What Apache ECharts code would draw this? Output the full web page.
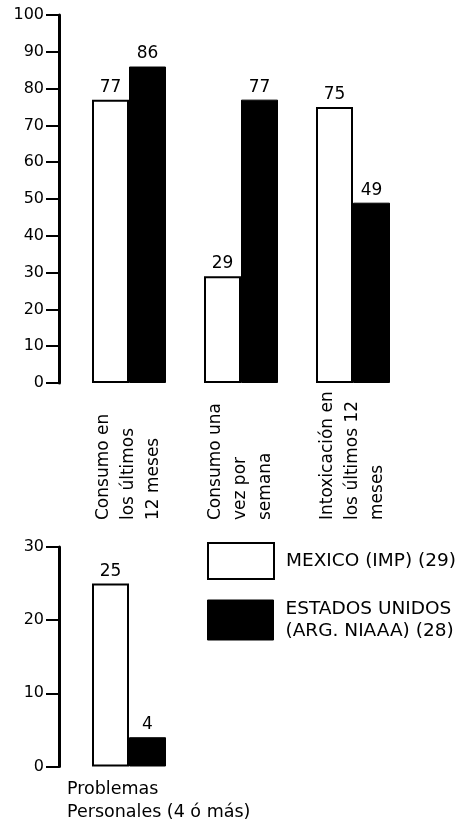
<!DOCTYPE html>
<html>
<head>
<meta charset="utf-8">
<script src="https://cdn.jsdelivr.net/npm/echarts@6/dist/echarts.min.js"></script>
<style>
html,body{margin:0;padding:0;background:#fff;}
#c{width:475px;height:821px;}
</style>
</head>
<body>
<div id="c"></div>
<script>
// ---- data ----
const categories = ['Consumo en\nlos últimos\n12 meses', 'Consumo una\nvez por\nsemana', 'Intoxicación en\nlos últimos 12\nmeses'];
const mexico = [77, 29, 75];
const usa = [86, 77, 49];
const bottomCategories = ['Problemas\nPersonales (4 ó más)'];
const mexicoBottom = [25];
const usaBottom = [4];
const seriesNames = ['MEXICO (IMP) (29)', 'ESTADOS UNIDOS\n(ARG. NIAAA) (28)'];
const topAxis = [0, 100, 10];
const bottomAxis = [0, 30, 10];

const FONT = 'DejaVu Sans';
const chart = echarts.init(document.getElementById('c'), null, {renderer: 'canvas'});

function yAxis(grid, range) {
  return {
    type: 'value', gridIndex: grid, min: range[0], max: range[1], interval: range[2],
    offset: 14,
    axisLine: {show: true, lineStyle: {color: '#000', width: 3}},
    axisTick: {show: true, length: 13, lineStyle: {color: '#000', width: 2}},
    axisLabel: {color: '#000', fontSize: 16, fontFamily: FONT, margin: 15},
    splitLine: {show: false}
  };
}
const labelStyle = {show: true, position: 'top', distance: 4, color: '#000', fontSize: 17, fontFamily: FONT};
const whiteStyle = {color: '#fff', borderColor: '#000', borderWidth: 2};
const blackStyle = {color: '#000', borderColor: '#000', borderWidth: 1};

chart.setOption({
  animation: false,
  backgroundColor: '#fff',
  textStyle: {fontFamily: FONT},
  grid: [
    {left: 73, width: 336, top: 15, height: 368, outerBoundsMode: 'none'},
    {left: 73, width: 112, top: 547, height: 219.5, outerBoundsMode: 'none'}
  ],
  legend: [
    {
      data: [seriesNames[0]], left: 207, top: 542, padding: 0,
      itemWidth: 66, itemHeight: 36, icon: 'rect', selectedMode: false,
      itemStyle: {color: '#fff', borderColor: '#000', borderWidth: 2},
      textStyle: {color: '#000', fontSize: 18.5, fontFamily: FONT, padding: [0, 0, 0, 7]}
    },
    {
      data: [seriesNames[1]], left: 207, top: 598, padding: 0,
      itemWidth: 66, itemHeight: 40, icon: 'rect', selectedMode: false,
      itemStyle: {color: '#000', borderColor: '#000', borderWidth: 1},
      textStyle: {color: '#000', fontSize: 18.5, lineHeight: 22, fontFamily: FONT, padding: [0, 0, 0, 7]}
    }
  ],
  xAxis: [
    {
      type: 'category', gridIndex: 0, data: categories,
      axisLine: {show: false}, axisTick: {show: false},
      axisLabel: {
        interval: 0, rotate: 90, align: 'left', verticalAlign: 'middle', margin: 137,
        color: '#000', fontSize: 17, lineHeight: 25, fontFamily: FONT
      }
    },
    {
      type: 'category', gridIndex: 1, data: bottomCategories,
      axisLine: {show: false}, axisTick: {show: false}, axisLabel: {show: false},
      name: bottomCategories[0], nameLocation: 'start', nameGap: 6,
      nameTextStyle: {align: 'left', verticalAlign: 'top', color: '#000', fontSize: 17.5, lineHeight: 23, fontFamily: FONT, padding: [11, 0, 0, 0]}
    }
  ],
  yAxis: [yAxis(0, topAxis), yAxis(1, bottomAxis)],
  series: [
    {name: seriesNames[0], type: 'bar', xAxisIndex: 0, yAxisIndex: 0, data: mexico, barWidth: 37, barGap: '0%', itemStyle: whiteStyle, label: labelStyle},
    {name: seriesNames[1], type: 'bar', xAxisIndex: 0, yAxisIndex: 0, data: usa, barWidth: 37, barGap: '0%', itemStyle: blackStyle, label: labelStyle},
    {name: seriesNames[0], type: 'bar', xAxisIndex: 1, yAxisIndex: 1, data: mexicoBottom, barWidth: 37, barGap: '0%', itemStyle: whiteStyle, label: labelStyle},
    {name: seriesNames[1], type: 'bar', xAxisIndex: 1, yAxisIndex: 1, data: usaBottom, barWidth: 37, barGap: '0%', itemStyle: blackStyle, label: labelStyle}
  ]
});
</script>
</body>
</html>
